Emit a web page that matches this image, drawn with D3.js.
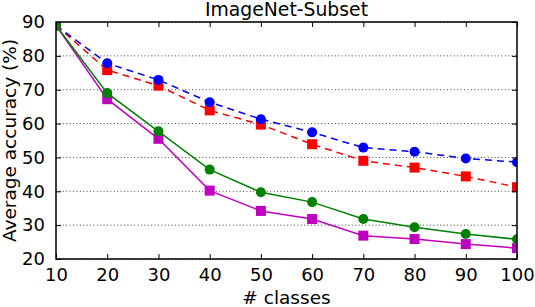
<!DOCTYPE html>
<html>
<head>
<meta charset="utf-8">
<script src="https://cdn.jsdelivr.net/npm/d3@7"></script>
<style>
  html, body { margin: 0; padding: 0; background: #fff; }
  svg { display: block; font-family: "DejaVu Sans", sans-serif; }
</style>
</head>
<body>
<div id="chart"></div>
<script>
const classes = [10, 20, 30, 40, 50, 60, 70, 80, 90, 100];
const blueVals = [89, 77.8, 72.9, 66.3, 61.3, 57.4, 52.9, 51.7, 49.7, 48.6];
const redVals = [89, 75.8, 71.2, 63.9, 59.7, 53.9, 49.0, 47.0, 44.4, 41.2];
const greenVals = [89, 69.0, 57.7, 46.4, 39.7, 36.8, 31.8, 29.4, 27.4, 25.8];
const magentaVals = [89, 67.2, 55.5, 40.2, 34.2, 31.8, 26.9, 25.9, 24.4, 23.2];
const yTicks = [20, 30, 40, 50, 60, 70, 80, 90];

// drawing order: red, blue, magenta, green (green ends on top)
const series = [
  { name: "red", values: redVals, color: "#ff0000", marker: "square", dash: "7,5" },
  { name: "blue", values: blueVals, color: "#0000ff", marker: "circle", dash: "7,5" },
  { name: "magenta", values: magentaVals, color: "#bf00bf", marker: "square", dash: null },
  { name: "green", values: greenVals, color: "#008000", marker: "circle", dash: null }
];

const width = 535, height = 307;
const margin = { top: 22, right: 18, bottom: 48, left: 56 };
const iw = width - margin.left - margin.right;
const ih = height - margin.top - margin.bottom;

const svg = d3.select("#chart").append("svg")
  .attr("width", width)
  .attr("height", height);

svg.append("defs").append("clipPath").attr("id", "plot-clip")
  .append("rect").attr("width", iw).attr("height", ih);

const g = svg.append("g").attr("transform", `translate(${margin.left},${margin.top})`);

const x = d3.scaleLinear().domain([10, 100]).range([0, iw]);
const y = d3.scaleLinear().domain([20, 90]).range([ih, 0]);

// horizontal dotted grid
g.selectAll(".grid")
  .data(yTicks)
  .enter()
  .append("line")
  .attr("x1", 0)
  .attr("x2", iw)
  .attr("y1", d => y(d))
  .attr("y2", d => y(d))
  .attr("stroke", "#444")
  .attr("stroke-width", 1)
  .attr("stroke-dasharray", "1,2.4");

const plot = g.append("g").attr("clip-path", "url(#plot-clip)");

const line = d3.line()
  .x((d, i) => x(classes[i]))
  .y(d => y(d));

series.forEach(s => {
  plot.append("path")
    .datum(s.values)
    .attr("d", line)
    .attr("fill", "none")
    .attr("stroke", s.color)
    .attr("stroke-width", 1.5)
    .attr("stroke-dasharray", s.dash);

  if (s.marker === "circle") {
    plot.selectAll(".pt-" + s.name)
      .data(s.values)
      .enter()
      .append("circle")
      .attr("cx", (d, i) => x(classes[i]))
      .attr("cy", d => y(d))
      .attr("r", 5)
      .attr("fill", s.color);
  } else {
    plot.selectAll(".pt-" + s.name)
      .data(s.values)
      .enter()
      .append("rect")
      .attr("x", (d, i) => x(classes[i]) - 5)
      .attr("y", d => y(d) - 5)
      .attr("width", 10)
      .attr("height", 10)
      .attr("fill", s.color);
  }
});

// axes: ticks pointing inward on all four sides
const tickLen = 5;
const xAxis = g.append("g").attr("transform", `translate(0,${ih})`)
  .call(d3.axisBottom(x).tickValues(classes).tickSize(-tickLen).tickPadding(9));
const xTop = g.append("g")
  .call(d3.axisTop(x).tickValues(classes).tickSize(-tickLen).tickFormat(""));
const yAxis = g.append("g")
  .call(d3.axisLeft(y).tickValues(yTicks).tickSize(-tickLen).tickPadding(11));
const yRight = g.append("g").attr("transform", `translate(${iw},0)`)
  .call(d3.axisRight(y).tickValues(yTicks).tickSize(-tickLen).tickFormat(""));

[xAxis, xTop, yAxis, yRight].forEach(a => {
  a.select(".domain").remove();
  a.selectAll(".tick line").attr("stroke", "#000").attr("stroke-width", 1);
  a.selectAll(".tick text")
    .attr("fill", "#000")
    .attr("font-size", "18px")
    .attr("font-family", "DejaVu Sans");
});

g.append("rect")
  .attr("width", iw)
  .attr("height", ih)
  .attr("fill", "none")
  .attr("stroke", "#000")
  .attr("stroke-width", 1.5);

svg.append("text")
  .attr("x", margin.left + iw / 2)
  .attr("y", 16)
  .attr("text-anchor", "middle")
  .attr("font-size", "18.8px")
  .text("ImageNet-Subset");

svg.append("text")
  .attr("x", margin.left + iw / 2)
  .attr("y", 304)
  .attr("text-anchor", "middle")
  .attr("font-size", "18.5px")
  .text("# classes");

svg.append("text")
  .attr("transform", `translate(16,${margin.top + ih / 2}) rotate(-90)`)
  .attr("text-anchor", "middle")
  .attr("font-size", "18.5px")
  .text("Average accuracy (%)");
</script>
</body>
</html>
